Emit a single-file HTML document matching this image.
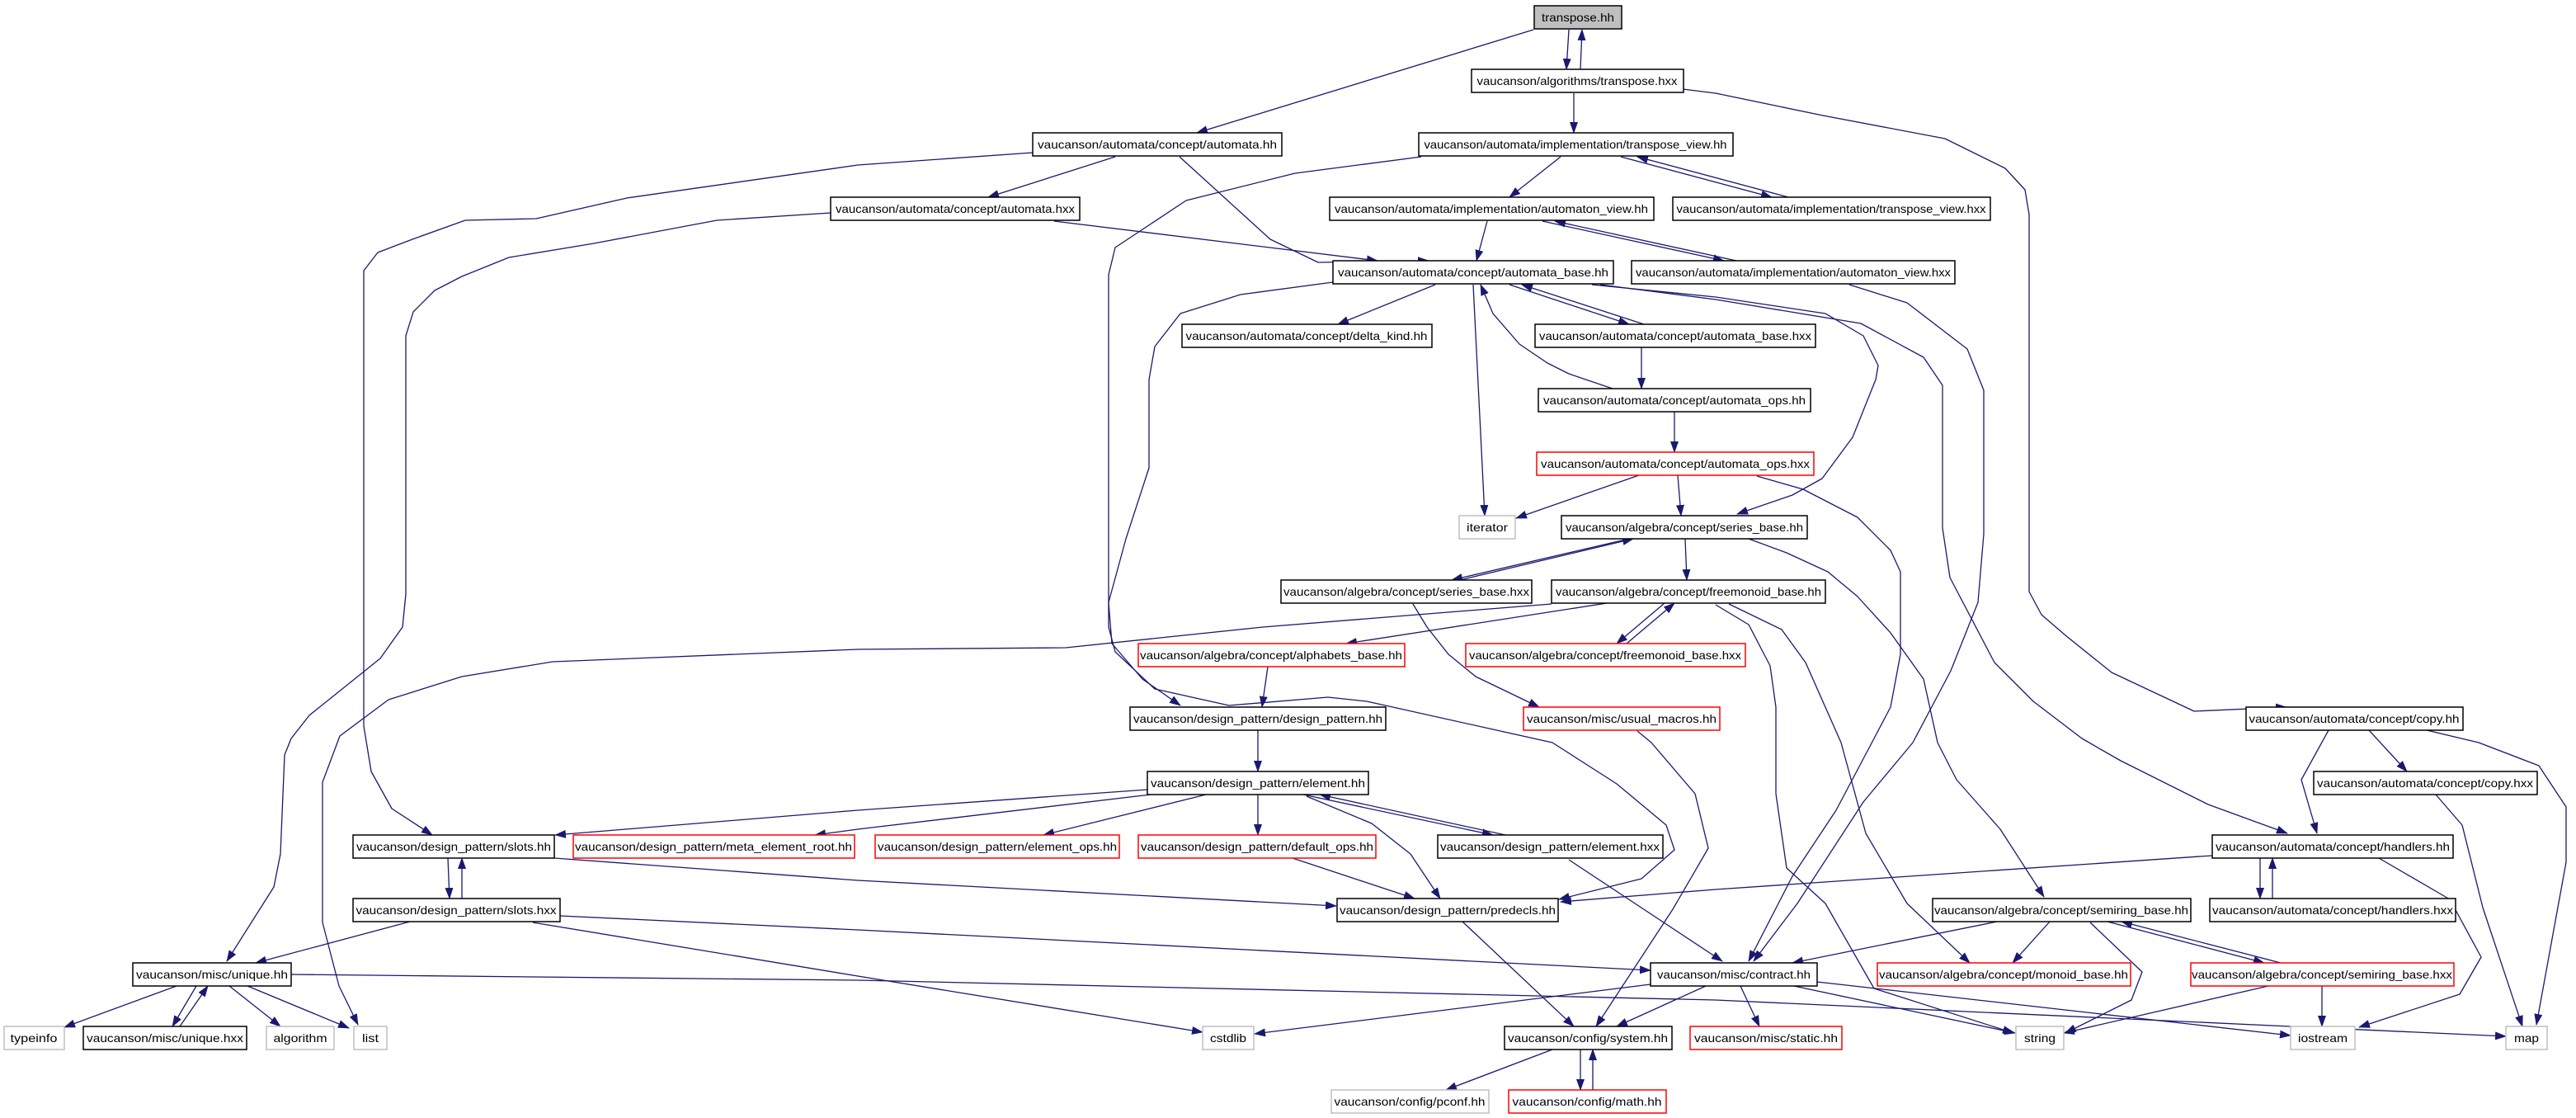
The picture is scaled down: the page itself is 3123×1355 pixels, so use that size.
<!DOCTYPE html>
<html><head><meta charset="utf-8"><style>
html,body{margin:0;padding:0;background:#fff}
svg{display:block}
text{font-family:"Liberation Sans",sans-serif;font-size:14px;fill:#000}
</style></head><body>
<svg width="3123" height="1355" viewBox="0 0 3123 1355" xmlns="http://www.w3.org/2000/svg">
<defs><marker id="a" markerWidth="14" markerHeight="10" refX="13" refY="5" orient="auto" markerUnits="userSpaceOnUse"><path d="M0,0 L14,5 L0,10 z" fill="#191970"/></marker></defs>
<g fill="none" stroke="#191970" stroke-width="1.3" marker-end="url(#a)" stroke-linejoin="round">
<polyline points="1859,36 1451,161"/>
<polyline points="1902,36 1899,84"/>
<polyline points="1916,84 1918,36"/>
<polyline points="1908,113 1908,161"/>
<polyline points="2040,108 2080,113 2210,140 2358,168 2431,204 2455,230 2460,260 2460,717 2475,745 2504,770 2560,815 2660,862 2772,857"/>
<polyline points="1252,185 1040,200 760,240 650,265 564,267 500,290 458,306 441,328 441,880 450,935 475,980 524,1012"/>
<polyline points="1007,258 869,267 720,295 617,312 560,335 527,352 501,378 492,407 492,720 488,760 461,798 375,867 353,895 345,915 340,1035 332,1075 275,1165"/>
<polyline points="1881,732 1531,760 1292,785 1040,787 670,802 560,820 471,848 412,892 391,948 391,1118 411,1195 434,1242"/>
<polyline points="1352,190 1198,239"/>
<polyline points="1430,190 1540,290 1598,318 1732,316"/>
<polyline points="1278,268 1670,316"/>
<polyline points="1892,190 1830,239"/>
<polyline points="1965,190 2148,239"/>
<polyline points="2168,239 1985,190"/>
<polyline points="1803,268 1790,316"/>
<polyline points="1870,268 2090,316"/>
<polyline points="2105,316 1885,268"/>
<polyline points="2242,345 2312,367 2385,423 2405,473 2405,647 2398,730 2365,813 2319,900 2259,972 2179,1095 2126,1165"/>
<polyline points="1616,342 1504,357 1431,380 1400,420 1393,460 1393,567 1365,653 1344,730 1348,780 1385,823 1431,855"/>
<polyline points="1740,345 1622,393"/>
<polyline points="1786,345 1800,625"/>
<polyline points="1830,345 1975,393"/>
<polyline points="1993,393 1845,345"/>
<polyline points="1930,345 2080,360 2213,380 2259,407 2277,443 2274,460 2246,530 2209,580 2173,600 2106,623"/>
<polyline points="1940,345 2080,363 2256,392 2332,433 2355,467 2355,640 2364,700 2418,803 2465,850 2524,895 2571,922 2677,975 2773,1010"/>
<polyline points="1990,421 1990,471"/>
<polyline points="1955,471 1902,453 1876,440 1842,417 1810,380 1795,345"/>
<polyline points="2030,499 2030,548"/>
<polyline points="1987,576 1838,628"/>
<polyline points="2034,576 2038,625"/>
<polyline points="2130,577 2186,593 2252,627 2292,667 2304,693 2304,793 2292,857 2272,895 2226,982 2173,1062 2120,1165"/>
<polyline points="1975,653 1760,703"/>
<polyline points="1770,703 1980,653"/>
<polyline points="2043,653 2045,703"/>
<polyline points="2120,653 2166,670 2216,693 2252,723 2292,767 2332,823 2349,900 2372,945 2425,1005 2478,1087"/>
<polyline points="1713,732 1730,760 1756,793 1789,820 1866,857"/>
<polyline points="1948,731 1632,780"/>
<polyline points="2018,731 1960,780"/>
<polyline points="1972,780 2030,731"/>
<polyline points="2096,732 2160,763 2189,803 2232,900 2262,1010 2312,1095 2388,1167"/>
<polyline points="2080,733 2120,757 2146,807 2153,857 2153,962 2166,1052 2213,1095 2272,1198 2441,1252"/>
<polyline points="1537,808 1530,857"/>
<polyline points="1985,886 2002,900 2055,962 2071,1028 2028,1102 1935,1244"/>
<polyline points="1525,885 1525,935"/>
<polyline points="1391,957 1040,982 673,1012"/>
<polyline points="1395,963 1040,1005 988,1012"/>
<polyline points="1462,963 1265,1012"/>
<polyline points="1525,963 1525,1012"/>
<polyline points="1580,963 1810,1012"/>
<polyline points="1825,1012 1600,963"/>
<polyline points="1584,965 1663,998 1710,1035 1746,1089"/>
<polyline points="672,1040 1040,1067 1620,1098"/>
<polyline points="543,1040 545,1089"/>
<polyline points="560,1089 560,1040"/>
<polyline points="497,1117 310,1167"/>
<polyline points="679,1110 1040,1127 2001,1176"/>
<polyline points="646,1118 1040,1183 1458,1251"/>
<polyline points="353,1181 1040,1188 2080,1212 3038,1256"/>
<polyline points="214,1195 78,1245"/>
<polyline points="238,1195 209,1244"/>
<polyline points="218,1244 252,1195"/>
<polyline points="278,1195 340,1244"/>
<polyline points="300,1195 423,1246"/>
<polyline points="1567,1040 1715,1089"/>
<polyline points="1902,1042 2088,1165"/>
<polyline points="2682,1037 2080,1078 1892,1093"/>
<polyline points="1723,190 1570,210 1438,243 1352,300 1344,333 1344,760 1352,790 1400,835 1490,855 1610,845 1657,850 1882,900 1960,950 2020,1000 2030,1030 1990,1065 1890,1090"/>
<polyline points="2740,1040 2740,1089"/>
<polyline points="2755,1089 2755,1040"/>
<polyline points="2884,1040 2970,1090 3008,1160 2982,1205 2860,1245"/>
<polyline points="2823,885 2790,945 2809,1010"/>
<polyline points="2872,885 2918,935"/>
<polyline points="2942,885 3005,900 3078,928 3111,978 3111,1045 3075,1242"/>
<polyline points="2953,963 2985,1000 3010,1100 3058,1244"/>
<polyline points="2421,1117 2173,1167"/>
<polyline points="2485,1117 2440,1167"/>
<polyline points="2534,1118 2597,1178 2584,1212 2504,1252"/>
<polyline points="2555,1117 2745,1167"/>
<polyline points="2765,1167 2572,1117"/>
<polyline points="2750,1195 2502,1252"/>
<polyline points="2815,1195 2815,1244"/>
<polyline points="2001,1193 1521,1253"/>
<polyline points="2068,1195 1960,1244"/>
<polyline points="2110,1195 2133,1244"/>
<polyline points="2175,1195 2443,1252"/>
<polyline points="2203,1190 2777,1255"/>
<polyline points="1773,1117 1908,1244"/>
<polyline points="1882,1272 1753,1321"/>
<polyline points="1916,1272 1916,1321"/>
<polyline points="1931,1321 1931,1272"/>
</g>
<g stroke-width="1.5">
<rect x="1860" y="7" width="106" height="28" fill="#bfbfbf" stroke="#000"/><text x="1913" y="26" text-anchor="middle" textLength="88" lengthAdjust="spacingAndGlyphs">transpose.hh</text>
<rect x="1784" y="84" width="257" height="28" fill="#fff" stroke="#000"/><text x="1912" y="103" text-anchor="middle" textLength="243" lengthAdjust="spacingAndGlyphs">vaucanson/algorithms/transpose.hxx</text>
<rect x="1252" y="161" width="302" height="28" fill="#fff" stroke="#000"/><text x="1403" y="180" text-anchor="middle" textLength="290" lengthAdjust="spacingAndGlyphs">vaucanson/automata/concept/automata.hh</text>
<rect x="1720" y="161" width="381" height="28" fill="#fff" stroke="#000"/><text x="1910" y="180" text-anchor="middle" textLength="367" lengthAdjust="spacingAndGlyphs">vaucanson/automata/implementation/transpose_view.hh</text>
<rect x="1007" y="239" width="302" height="28" fill="#fff" stroke="#000"/><text x="1158" y="258" text-anchor="middle" textLength="290" lengthAdjust="spacingAndGlyphs">vaucanson/automata/concept/automata.hxx</text>
<rect x="1612" y="239" width="393" height="28" fill="#fff" stroke="#000"/><text x="1808" y="258" text-anchor="middle" textLength="380" lengthAdjust="spacingAndGlyphs">vaucanson/automata/implementation/automaton_view.hh</text>
<rect x="2028" y="239" width="385" height="28" fill="#fff" stroke="#000"/><text x="2220" y="258" text-anchor="middle" textLength="375" lengthAdjust="spacingAndGlyphs">vaucanson/automata/implementation/transpose_view.hxx</text>
<rect x="1616" y="316" width="340" height="28" fill="#fff" stroke="#000"/><text x="1786" y="335" text-anchor="middle" textLength="328" lengthAdjust="spacingAndGlyphs">vaucanson/automata/concept/automata_base.hh</text>
<rect x="1978" y="316" width="392" height="28" fill="#fff" stroke="#000"/><text x="2174" y="335" text-anchor="middle" textLength="382" lengthAdjust="spacingAndGlyphs">vaucanson/automata/implementation/automaton_view.hxx</text>
<rect x="1433" y="393" width="303" height="28" fill="#fff" stroke="#000"/><text x="1584" y="412" text-anchor="middle" textLength="293" lengthAdjust="spacingAndGlyphs">vaucanson/automata/concept/delta_kind.hh</text>
<rect x="1861" y="393" width="340" height="28" fill="#fff" stroke="#000"/><text x="2031" y="412" text-anchor="middle" textLength="330" lengthAdjust="spacingAndGlyphs">vaucanson/automata/concept/automata_base.hxx</text>
<rect x="1865" y="471" width="330" height="28" fill="#fff" stroke="#000"/><text x="2030" y="490" text-anchor="middle" textLength="318" lengthAdjust="spacingAndGlyphs">vaucanson/automata/concept/automata_ops.hh</text>
<rect x="1863" y="548" width="336" height="28" fill="#fff" stroke="#f00"/><text x="2031" y="567" text-anchor="middle" textLength="326" lengthAdjust="spacingAndGlyphs">vaucanson/automata/concept/automata_ops.hxx</text>
<rect x="1769" y="625" width="68" height="28" fill="#fff" stroke="#bfbfbf"/><text x="1803" y="644" text-anchor="middle" textLength="50" lengthAdjust="spacingAndGlyphs">iterator</text>
<rect x="1893" y="625" width="298" height="28" fill="#fff" stroke="#000"/><text x="2042" y="644" text-anchor="middle" textLength="288" lengthAdjust="spacingAndGlyphs">vaucanson/algebra/concept/series_base.hh</text>
<rect x="1553" y="703" width="304" height="28" fill="#fff" stroke="#000"/><text x="1705" y="722" text-anchor="middle" textLength="298" lengthAdjust="spacingAndGlyphs">vaucanson/algebra/concept/series_base.hxx</text>
<rect x="1881" y="703" width="332" height="28" fill="#fff" stroke="#000"/><text x="2047" y="722" text-anchor="middle" textLength="322" lengthAdjust="spacingAndGlyphs">vaucanson/algebra/concept/freemonoid_base.hh</text>
<rect x="1380" y="780" width="323" height="28" fill="#fff" stroke="#f00"/><text x="1541" y="799" text-anchor="middle" textLength="318" lengthAdjust="spacingAndGlyphs">vaucanson/algebra/concept/alphabets_base.hh</text>
<rect x="1777" y="780" width="339" height="28" fill="#fff" stroke="#f00"/><text x="1946" y="799" text-anchor="middle" textLength="330" lengthAdjust="spacingAndGlyphs">vaucanson/algebra/concept/freemonoid_base.hxx</text>
<rect x="1370" y="857" width="310" height="28" fill="#fff" stroke="#000"/><text x="1525" y="876" text-anchor="middle" textLength="302" lengthAdjust="spacingAndGlyphs">vaucanson/design_pattern/design_pattern.hh</text>
<rect x="1847" y="857" width="238" height="28" fill="#fff" stroke="#f00"/><text x="1966" y="876" text-anchor="middle" textLength="230" lengthAdjust="spacingAndGlyphs">vaucanson/misc/usual_macros.hh</text>
<rect x="2723" y="857" width="263" height="28" fill="#fff" stroke="#000"/><text x="2854" y="876" text-anchor="middle" textLength="255" lengthAdjust="spacingAndGlyphs">vaucanson/automata/concept/copy.hh</text>
<rect x="1391" y="935" width="268" height="28" fill="#fff" stroke="#000"/><text x="1525" y="954" text-anchor="middle" textLength="260" lengthAdjust="spacingAndGlyphs">vaucanson/design_pattern/element.hh</text>
<rect x="2805" y="935" width="271" height="28" fill="#fff" stroke="#000"/><text x="2940" y="954" text-anchor="middle" textLength="262" lengthAdjust="spacingAndGlyphs">vaucanson/automata/concept/copy.hxx</text>
<rect x="428" y="1012" width="244" height="28" fill="#fff" stroke="#000"/><text x="550" y="1031" text-anchor="middle" textLength="236" lengthAdjust="spacingAndGlyphs">vaucanson/design_pattern/slots.hh</text>
<rect x="695" y="1012" width="341" height="28" fill="#fff" stroke="#f00"/><text x="865" y="1031" text-anchor="middle" textLength="336" lengthAdjust="spacingAndGlyphs">vaucanson/design_pattern/meta_element_root.hh</text>
<rect x="1061" y="1012" width="296" height="28" fill="#fff" stroke="#f00"/><text x="1209" y="1031" text-anchor="middle" textLength="290" lengthAdjust="spacingAndGlyphs">vaucanson/design_pattern/element_ops.hh</text>
<rect x="1380" y="1012" width="288" height="28" fill="#fff" stroke="#f00"/><text x="1524" y="1031" text-anchor="middle" textLength="282" lengthAdjust="spacingAndGlyphs">vaucanson/design_pattern/default_ops.hh</text>
<rect x="1743" y="1012" width="273" height="28" fill="#fff" stroke="#000"/><text x="1879" y="1031" text-anchor="middle" textLength="266" lengthAdjust="spacingAndGlyphs">vaucanson/design_pattern/element.hxx</text>
<rect x="2682" y="1012" width="292" height="28" fill="#fff" stroke="#000"/><text x="2828" y="1031" text-anchor="middle" textLength="284" lengthAdjust="spacingAndGlyphs">vaucanson/automata/concept/handlers.hh</text>
<rect x="428" y="1089" width="251" height="28" fill="#fff" stroke="#000"/><text x="553" y="1108" text-anchor="middle" textLength="243" lengthAdjust="spacingAndGlyphs">vaucanson/design_pattern/slots.hxx</text>
<rect x="1621" y="1089" width="268" height="28" fill="#fff" stroke="#000"/><text x="1755" y="1108" text-anchor="middle" textLength="262" lengthAdjust="spacingAndGlyphs">vaucanson/design_pattern/predecls.hh</text>
<rect x="2343" y="1089" width="313" height="28" fill="#fff" stroke="#000"/><text x="2499" y="1108" text-anchor="middle" textLength="308" lengthAdjust="spacingAndGlyphs">vaucanson/algebra/concept/semiring_base.hh</text>
<rect x="2679" y="1089" width="298" height="28" fill="#fff" stroke="#000"/><text x="2828" y="1108" text-anchor="middle" textLength="292" lengthAdjust="spacingAndGlyphs">vaucanson/automata/concept/handlers.hxx</text>
<rect x="161" y="1167" width="192" height="28" fill="#fff" stroke="#000"/><text x="257" y="1186" text-anchor="middle" textLength="184" lengthAdjust="spacingAndGlyphs">vaucanson/misc/unique.hh</text>
<rect x="2001" y="1167" width="202" height="28" fill="#fff" stroke="#000"/><text x="2102" y="1186" text-anchor="middle" textLength="186" lengthAdjust="spacingAndGlyphs">vaucanson/misc/contract.hh</text>
<rect x="2276" y="1167" width="307" height="28" fill="#fff" stroke="#f00"/><text x="2429" y="1186" text-anchor="middle" textLength="302" lengthAdjust="spacingAndGlyphs">vaucanson/algebra/concept/monoid_base.hh</text>
<rect x="2656" y="1167" width="319" height="28" fill="#fff" stroke="#f00"/><text x="2815" y="1186" text-anchor="middle" textLength="316" lengthAdjust="spacingAndGlyphs">vaucanson/algebra/concept/semiring_base.hxx</text>
<rect x="5" y="1244" width="73" height="28" fill="#fff" stroke="#bfbfbf"/><text x="41" y="1263" text-anchor="middle" textLength="57" lengthAdjust="spacingAndGlyphs">typeinfo</text>
<rect x="101" y="1244" width="198" height="28" fill="#fff" stroke="#000"/><text x="200" y="1263" text-anchor="middle" textLength="190" lengthAdjust="spacingAndGlyphs">vaucanson/misc/unique.hxx</text>
<rect x="323" y="1244" width="82" height="28" fill="#fff" stroke="#bfbfbf"/><text x="364" y="1263" text-anchor="middle" textLength="65" lengthAdjust="spacingAndGlyphs">algorithm</text>
<rect x="429" y="1244" width="40" height="28" fill="#fff" stroke="#bfbfbf"/><text x="449" y="1263" text-anchor="middle" textLength="20" lengthAdjust="spacingAndGlyphs">list</text>
<rect x="1458" y="1244" width="62" height="28" fill="#fff" stroke="#bfbfbf"/><text x="1489" y="1263" text-anchor="middle" textLength="44" lengthAdjust="spacingAndGlyphs">cstdlib</text>
<rect x="1824" y="1244" width="203" height="28" fill="#fff" stroke="#000"/><text x="1925" y="1263" text-anchor="middle" textLength="194" lengthAdjust="spacingAndGlyphs">vaucanson/config/system.hh</text>
<rect x="2049" y="1244" width="184" height="28" fill="#fff" stroke="#f00"/><text x="2141" y="1263" text-anchor="middle" textLength="174" lengthAdjust="spacingAndGlyphs">vaucanson/misc/static.hh</text>
<rect x="2444" y="1244" width="58" height="28" fill="#fff" stroke="#bfbfbf"/><text x="2473" y="1263" text-anchor="middle" textLength="38" lengthAdjust="spacingAndGlyphs">string</text>
<rect x="2777" y="1244" width="78" height="28" fill="#fff" stroke="#bfbfbf"/><text x="2816" y="1263" text-anchor="middle" textLength="60" lengthAdjust="spacingAndGlyphs">iostream</text>
<rect x="3038" y="1244" width="50" height="28" fill="#fff" stroke="#bfbfbf"/><text x="3063" y="1263" text-anchor="middle" textLength="30" lengthAdjust="spacingAndGlyphs">map</text>
<rect x="1614" y="1321" width="191" height="28" fill="#fff" stroke="#bfbfbf"/><text x="1709" y="1340" text-anchor="middle" textLength="183" lengthAdjust="spacingAndGlyphs">vaucanson/config/pconf.hh</text>
<rect x="1829" y="1321" width="191" height="28" fill="#fff" stroke="#f00"/><text x="1924" y="1340" text-anchor="middle" textLength="181" lengthAdjust="spacingAndGlyphs">vaucanson/config/math.hh</text>
</g>
</svg>
</body></html>
